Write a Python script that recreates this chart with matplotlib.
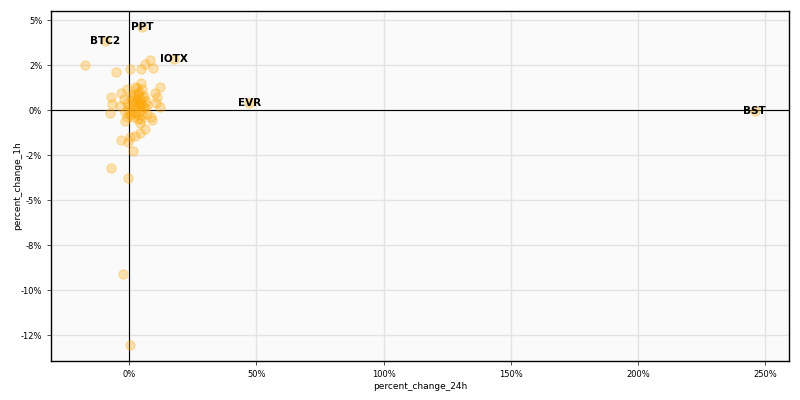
import matplotlib
matplotlib.use('Agg')
import matplotlib.pyplot as plt
from matplotlib.ticker import MultipleLocator, PercentFormatter

plt.rcParams['axes.unicode_minus'] = False

# percent_change_24h / percent_change_1h (in %)
change_24h = [-17.3, -5.2, 0.4, 4.7, 6.3, 8.3, 9.3, 12.2, 4.7, -7.1, -6.8, -7.5,
              -3.4, -0.9, 2.4, 5.2, 10.0, 11.1, 10.6, 11.9, 8.5, 8.9, -1.8, -0.7,
              -3.8, 4.1, 4.7, 6.3, 4.3, 2.1, 0.4, -3.1, -0.3, 1.4, -7.1, -0.3,
              -2.6, 0.4,
              1.0, 2.0, 3.0, 4.0, 5.0, 3.5, 2.5, 4.5, 3.0, 1.5, 5.5, 6.5, 0.5,
              -1.0, -0.5, 0.0, 1.0, 2.0, 4.0, 6.0, 7.0, 3.5, 5.0, 2.8, 4.2, 3.8,
              1.8, 0.2, 6.8, 5.8, -2.0, -1.5, 3.2, 4.6, 2.2]
change_1h = [2.5, 2.09, 2.3, 2.26, 2.54, 2.78, 2.31, 1.26, 1.52, 0.7, 0.31, -0.15,
             0.93, 1.15, 1.26, 1.15, 0.96, 0.7, 0.41, 0.15, -0.37, -0.55, -0.61, -0.37,
             0.22, -0.7, -0.5, -1.06, -1.3, -1.43, -1.48, -1.69, -1.76, -2.26, -3.24, -3.8,
             -9.13, -13.07,
             0.5, 0.3, 0.6, 0.4, 0.7, 0.9, 0.1, 0.0, -0.2, -0.4, 0.2, 0.5, 0.8,
             0.4, 0.0, 0.2, -0.1, 0.7, 1.0, 0.1, 0.3, -0.5, -0.3, 0.4, 0.6, 0.2,
             0.9, -0.3, -0.2, 0.8, 0.6, -0.1, 1.2, 0.35, -0.15]

# labelled coins
symbols = ['PPT', 'BTC2', 'IOTX', 'EVR', 'BST']
sym_24h = [5.1, -9.4, 17.7, 47.2, 246.0]
sym_1h = [4.6, 3.83, 2.83, 0.37, -0.05]

fig = plt.figure(figsize=(8, 4), dpi=100)
ax = fig.add_axes([0.064, 0.0975, 0.922, 0.875])
ax.set_facecolor('#fafafa')

ax.scatter(change_24h + sym_24h, change_1h + sym_1h, s=45, color='orange', alpha=0.3,
           linewidths=0.8, zorder=3)
for s, x, y in zip(symbols, sym_24h, sym_1h):
    ax.text(x, y, s, ha='center', va='center', fontsize=7.5, fontweight='bold', zorder=4)

ax.axhline(0, color='black', lw=0.8, zorder=2)
ax.axvline(0, color='black', lw=0.8, zorder=2)

ax.set_xlim(-30.7, 259.4)
ax.set_ylim(-13.94, 5.5)
ax.xaxis.set_major_locator(MultipleLocator(50))
ax.yaxis.set_major_locator(MultipleLocator(2.5))
ax.xaxis.set_major_formatter(PercentFormatter(100, decimals=0))
ax.yaxis.set_major_formatter(PercentFormatter(100, decimals=0))
ax.grid(True, color='#e3e3e3', lw=1, zorder=0)
ax.set_axisbelow(True)
ax.tick_params(labelsize=6, length=3, width=0.6, color='#333333')
for sp in ax.spines.values():
    sp.set_linewidth(1)
ax.set_xlabel('percent_change_24h', fontsize=6.5, labelpad=2)
ax.set_ylabel('percent_change_1h', fontsize=6.5, labelpad=-1)

fig.savefig('out.png', dpi=100)
